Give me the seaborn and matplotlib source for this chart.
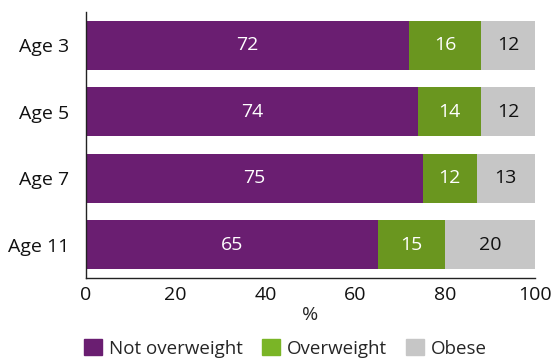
import matplotlib
matplotlib.use("Agg")
import matplotlib.pyplot as plt
import seaborn as sns
import pandas as pd
import numpy as np
from matplotlib.patches import Patch

categories = ["Age 3", "Age 5", "Age 7", "Age 11"]
not_overweight = [72, 74, 75, 65]
overweight = [16, 14, 12, 15]
obese = [12, 12, 13, 20]
series_names = ["Not overweight", "Overweight", "Obese"]
xticks = [0, 20, 40, 60, 80, 100]

sns.set_style("white")
plt.rcParams['font.family'] = ['Open Sans', 'DejaVu Sans']

purple = "#6A1E71"
green = "#6A961F"
green_leg = "#7AB526"
grey = "#C6C6C6"

df = pd.DataFrame({"cat": categories, "a": not_overweight, "b": overweight, "c": obese})
df["ab"] = df["a"] + df["b"]
df["abc"] = df["ab"] + df["c"]

fig = plt.figure(figsize=(5.54, 3.6), dpi=100)
ax = fig.add_axes([0.155, 0.2278, 0.8107, 0.7389])

w = 0.74
sns.barplot(data=df, y="cat", x="abc", color=grey, width=w, saturation=1, ax=ax, orient="h")
sns.barplot(data=df, y="cat", x="ab", color=green, width=w, saturation=1, ax=ax, orient="h")
sns.barplot(data=df, y="cat", x="a", color=purple, width=w, saturation=1, ax=ax, orient="h")
for p in ax.patches:
    p.set_linewidth(0)

fs = 14
for i in range(len(categories)):
    a, b, c = not_overweight[i], overweight[i], obese[i]
    ax.text(a / 2, i, str(a), ha="center", va="center", color="white", fontsize=fs)
    ax.text(a + b / 2, i, str(b), ha="center", va="center", color="white", fontsize=fs)
    ax.text(a + b + c / 2, i, str(c), ha="center", va="center", color="#111111", fontsize=fs)

ax.set_xlim(0, 100)
ax.set_ylim(3.5, -0.5)
ax.set_xticks(xticks)
ax.set_xticklabels([str(t) for t in xticks])
ax.set_xlabel("%", fontsize=fs, labelpad=1)
ax.set_ylabel("")
ax.tick_params(axis="x", direction="in", length=5, width=1, labelsize=fs, pad=6, colors="#111111")
ax.tick_params(axis="y", length=0, labelsize=fs, pad=12, colors="#111111")
for s in ["top", "right"]:
    ax.spines[s].set_visible(False)
for s in ["left", "bottom"]:
    ax.spines[s].set_color("#222222")
    ax.spines[s].set_linewidth(1)

handles = [Patch(color=purple), Patch(color=green_leg), Patch(color=grey)]
fig.legend(handles, series_names, loc="center", bbox_to_anchor=(0.515, 0.033), ncol=3,
           frameon=False, fontsize=13.5, handlelength=1.0, handleheight=1.0,
           handletextpad=0.35, columnspacing=1.0, borderaxespad=0)

fig.savefig("out.png", dpi=100)
